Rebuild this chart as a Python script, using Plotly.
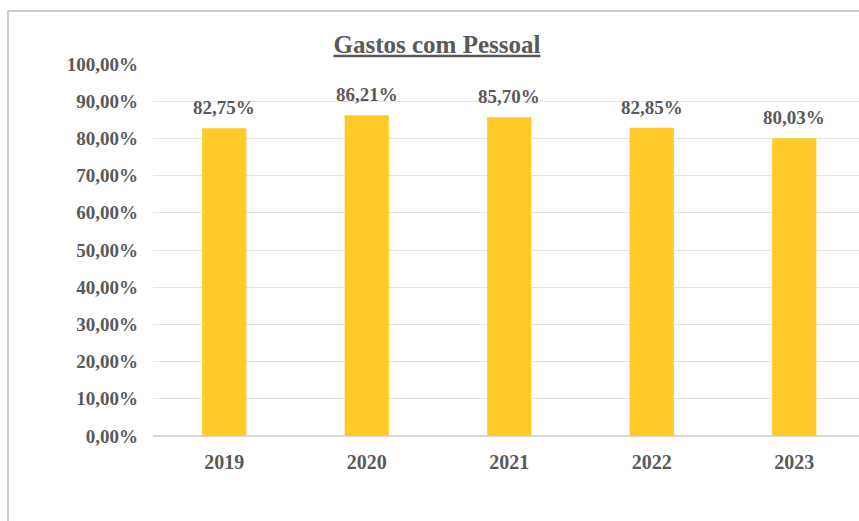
import plotly.graph_objects as go

anos = ["2019", "2020", "2021", "2022", "2023"]
gastos = [82.75, 86.21, 85.70, 82.85, 80.03]
ticks_y = [0, 10, 20, 30, 40, 50, 60, 70, 80, 90, 100]
ticks_y_text = ["0,00%", "10,00%", "20,00%", "30,00%", "40,00%", "50,00%",
                "60,00%", "70,00%", "80,00%", "90,00%", "100,00%"]

FONT = "Liberation Serif"
GRAY = "#595959"

fig = go.Figure()
fig.add_trace(go.Bar(
    x=anos, y=gastos,
    marker=dict(color="#FFCA28", line=dict(width=0)),
    width=0.31,
    hoverinfo="skip",
))

for i, v in enumerate(gastos):
    fig.add_annotation(
        x=i, y=v, xref="x", yref="y",
        text="<b>" + f"{v:.2f}".replace(".", ",") + "%</b>",
        showarrow=False, yanchor="bottom", yshift=8,
        font=dict(family=FONT, size=19, color=GRAY),
    )

L, R, T, B = 153, 0, 64, 85
W, H = 859, 521
pw = W - L - R
ph = H - T - B

fig.update_layout(
    width=W, height=H,
    margin=dict(l=L, r=R, t=T, b=B),
    paper_bgcolor="white", plot_bgcolor="white",
    separators=",.",
    showlegend=False,
    font=dict(family=FONT, color=GRAY),
    title=dict(
        text="<b><u>Gastos com Pessoal</u></b>",
        font=dict(family=FONT, size=25, color=GRAY),
        x=437 / W, xanchor="center", xref="container",
        y=1 - 44 / H, yanchor="middle", yref="container",
    ),
    xaxis=dict(
        type="category",
        range=[-0.5, pw / 142.5 - 0.5],
        showgrid=False, zeroline=False,
        showline=False,
        ticks="",
        tickfont=dict(family=FONT, size=20, color=GRAY),
        ticklabelstandoff=12,
        tickprefix="<b>", ticksuffix="</b>",
    ),
    yaxis=dict(
        range=[0, 100],
        tickvals=ticks_y,
        ticktext=["<b>" + t + "</b>" for t in ticks_y_text],
        showgrid=True, gridcolor="#e3e3e3", gridwidth=1,
        zeroline=True, zerolinecolor="#d9d9d9", zerolinewidth=1.5,
        showline=False, ticks="",
        tickfont=dict(family=FONT, size=19, color=GRAY),
        ticklabelstandoff=14,
    ),
    shapes=[dict(
        type="rect", xref="paper", yref="paper",
        x0=(8 - L) / pw, x1=(W + 20 - L) / pw,
        y0=(ph + T - (H + 20)) / ph, y1=(ph + T - 11) / ph,
        line=dict(color="#bfbfbf", width=1.5),
        fillcolor="rgba(0,0,0,0)", layer="below",
    )],
)

fig.write_html(
    "out.html",
    config={"displayModeBar": False},
    post_script="document.body.style.margin='0';document.body.style.overflow='hidden';",
)
